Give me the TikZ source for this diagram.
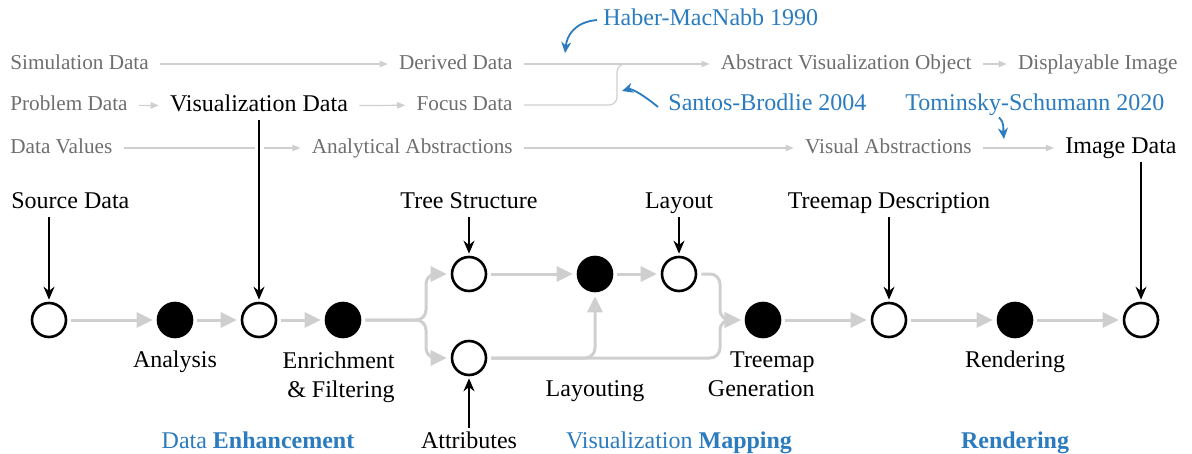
\documentclass[tikz,border=0pt]{standalone}
\usepackage{fontspec}
\setmainfont{Liberation Serif}
\usetikzlibrary{arrows.meta}
\definecolor{cblue}{HTML}{2B7BBF}
\definecolor{gtext}{HTML}{6E6E6E}
\definecolor{lgray}{HTML}{CFCFCF}
\begin{document}
\begin{tikzpicture}[x=0.5pt,y=-0.5pt,
  txt/.style={inner sep=0pt, text height=8pt, text depth=2pt, font=\fontsize{12}{14.5}\selectfont},
  gtxt/.style={txt, text=gtext, font=\fontsize{10.6}{13}\selectfont},
  btxt/.style={txt, text=cblue},
  open/.style={circle, draw=black, line width=1.3pt, fill=white, minimum size=17pt, inner sep=0pt},
  full/.style={open, fill=black},
  flow/.style={draw=lgray, line width=1.5pt, shorten <=2pt, shorten >=2pt, -{Triangle[length=8pt,width=7.5pt]}},
  thinflow/.style={draw=lgray, line width=0.6pt, shorten <=5.5pt, shorten >=5.5pt, -{Triangle[length=4pt,width=3.2pt]}},
  thinline/.style={draw=lgray, line width=0.6pt},
  feed/.style={draw=black, line width=0.7pt, shorten <=2pt, shorten >=1pt, -{Stealth[length=6.5pt,width=5.5pt]}},
  cite/.style={draw=cblue, line width=0.9pt, -{Stealth[length=5.5pt,width=5pt]}}
]
\useasboundingbox (0,0) rectangle (1192,454);

% ---- top reference pipelines ----
\node[gtxt, anchor=base west] (sim) at (10,70) {Simulation Data};
\node[gtxt, anchor=base east] (der) at (513,70) {Derived Data};
\node[gtxt, anchor=base east] (avo) at (972,70) {Abstract Visualization Object};
\node[gtxt, anchor=base east] (dis) at (1178,70) {Displayable Image};
\node[gtxt, anchor=base west] (prob) at (10,111) {Problem Data};
\node[txt, anchor=base] (vis) at (259,112) {Visualization Data};
\node[gtxt, anchor=base east] (foc) at (513,111) {Focus Data};
\node[gtxt, anchor=base west] (dv) at (10,154) {Data Values};
\node[gtxt, anchor=base east] (aa) at (513,154) {Analytical Abstractions};
\node[gtxt, anchor=base east] (va) at (972,154) {Visual Abstractions};
\node[txt, anchor=base east] (imd) at (1177,154) {Image Data};

\coordinate (fj) at (617,64);
\draw[thinflow] (sim) -- (der);
\draw[thinflow] (der) -- (avo);
\draw[thinline, rounded corners=4pt, shorten <=5.5pt] (foc.east) -| (fj) -- ([xshift=-40pt]avo.west);
\draw[thinflow] (avo) -- (dis);
\draw[thinflow] (prob) -- (vis);
\draw[thinflow] (vis) -- (foc);
\draw[thinflow] (dv) -- (aa);
\draw[thinflow] (aa) -- (va);
\draw[thinflow] (va) -- (imd);

% citations
\node[btxt, anchor=base west] (hm) at (603,26) {Haber-MacNabb 1990};
\node[btxt, anchor=base west] (sb) at (668,111) {Santos-Brodlie 2004};
\node[btxt, anchor=base west] (tsc) at (905,111) {Tominsky-Schumann 2020};
\coordinate (hmtip) at (565,53);
\coordinate (sbtip) at (622,91);
\coordinate (tstip) at (1004,139);
\draw[cite] ([xshift=-3pt]hm.west) .. controls +(-22,2) and +(2,-18) .. (hmtip);
\draw[cite] ([xshift=-5pt,yshift=-1pt]sb.west) .. controls +(-12,-10) and +(10,-3) .. (sbtip);
\draw[cite] ([xshift=47pt,yshift=-1pt]tsc.south west) .. controls +(6,6) and +(-1,-10) .. (tstip);

% ---- main pipeline ----
\node[open] (c1) at (49,320) {};
\node[full] (a1) at (175,320) {};
\node[open] (c2) at (259,320) {};
\node[full] (a2) at (343,320) {};
\node[open] (t)  at (469,274) {};
\node[open] (at) at (469,358) {};
\node[full] (a3) at (595,274) {};
\node[open] (lo) at (679,274) {};
\node[full] (a4) at (763,320) {};
\node[open] (td) at (889,320) {};
\node[full] (a5) at (1015,320) {};
\node[open] (id) at (1141,320) {};

\coordinate (br) at (426,320);
\coordinate (mj) at (720,320);
\draw[flow] (c1) -- (a1);
\draw[flow] (a1) -- (c2);
\draw[flow] (c2) -- (a2);
\draw[flow, rounded corners=5pt] (a2.east) -- (br) |- (t.west);
\draw[flow, rounded corners=5pt] (a2.east) -- (br) |- (at.west);
\draw[flow] (t) -- (a3);
\draw[flow] (a3) -- (lo);
\draw[flow, rounded corners=5pt] (at.east) -| (a3.south);
\draw[flow, rounded corners=5pt] (at.east) -| (mj) -- (a4.west);
\draw[flow, rounded corners=5pt] (lo.east) -| (mj) -- (a4.west);
\draw[flow] (a4) -- (td);
\draw[flow] (td) -- (a5);
\draw[flow] (a5) -- (id);

% inputs
\node[txt, anchor=base west] (sd) at (11,209) {Source Data};
\node[txt, anchor=base] (ts) at (469,209) {Tree Structure};
\node[txt, anchor=base] (lay) at (679,209) {Layout};
\node[txt, anchor=base] (tdesc) at (889,209) {Treemap Description};
\node[txt, anchor=base] (attr) at (469,448) {Attributes};

\draw[feed] (c1 |- sd.south) -- (c1.north);
\draw[feed, preaction={draw=white, line width=4.5pt, -, shorten <=12pt, shorten >=74pt}] (vis.south) -- (c2.north);
\draw[feed] (ts.south) -- (t.north);
\draw[feed] (lay.south) -- (lo.north);
\draw[feed] (tdesc.south) -- (td.north);
\draw[feed] (id |- imd.south) -- (id.north);
\draw[feed] (attr.north) -- (at.south);

% step labels
\node[txt, anchor=base] (lan) at (175,367) {Analysis};
\node[inner sep=0pt, anchor=north east, align=right, font=\fontsize{12}{14.5}\selectfont] (len) at (395,351) {Enrichment\\\& Filtering};
\node[txt, anchor=base] (llay) at (595,396) {Layouting};
\node[inner sep=0pt, anchor=north east, align=right, font=\fontsize{12}{14.5}\selectfont] (ltg) at (815,351) {Treemap\\Generation};
\node[txt, anchor=base] (lren) at (1015,367) {Rendering};

% phases
\node[btxt, anchor=base] (p1) at (258,448) {Data \textbf{Enhancement}};
\node[btxt, anchor=base] (p2) at (679,448) {Visualization \textbf{Mapping}};
\node[btxt, anchor=base] (p3) at (1015,448) {\textbf{Rendering}};
\end{tikzpicture}
\end{document}
